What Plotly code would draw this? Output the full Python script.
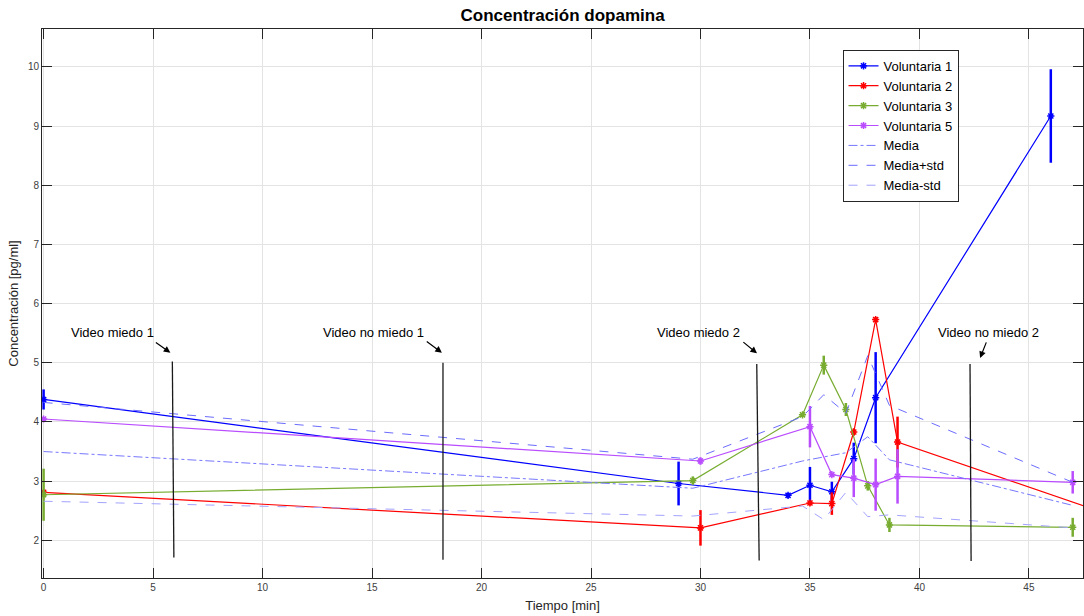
import plotly.graph_objects as go

# ---------------- data ----------------
t1 = [0, 29, 34, 35, 36, 37, 38, 46]
v1 = [4.38, 2.96, 2.76, 2.93, 2.82, 3.38, 4.41, 9.17]
e1 = [0.17, 0.37, 0.04, 0.31, 0.17, 0.27, 0.77, 0.79]

t2 = [0, 30, 35, 36, 37, 38, 39, 48]
v2 = [2.81, 2.21, 2.63, 2.62, 3.83, 5.73, 3.66, 2.52]
e2 = [0.04, 0.30, 0.04, 0.19, 0.06, 0.04, 0.43, 0.0]

t3 = [0, 29.65, 34.66, 35.63, 36.64, 37.64, 38.63, 47]
v3 = [2.77, 3.01, 4.12, 4.96, 4.21, 2.92, 2.26, 2.22]
e3 = [0.44, 0.07, 0.03, 0.16, 0.11, 0.08, 0.12, 0.16]

t5 = [0, 30, 35, 36, 37, 38, 39, 47]
v5 = [4.05, 3.34, 3.92, 3.11, 3.05, 2.94, 3.08, 2.98]
e5 = [0.03, 0.06, 0.35, 0.03, 0.32, 0.44, 0.46, 0.19]

t_media = [0, 29.65, 34.66, 35.63, 36.64, 37.64, 38.63, 47]
media = [3.50, 2.88, 3.34, 3.41, 3.48, 3.75, 3.36, 2.59]
media_mas = [4.33, 3.37, 4.09, 4.46, 4.15, 5.12, 4.28, 2.98]
media_menos = [2.66, 2.41, 2.58, 2.35, 2.81, 2.40, 2.43, 2.21]

video_labels = ["Video miedo 1", "Video no miedo 1", "Video miedo 2", "Video no miedo 2"]
video_x_top = [5.88, 18.24, 32.57, 42.31]
video_x_bot = [5.95, 18.24, 32.68, 42.36]
video_y_top = [5.02, 5.00, 4.98, 4.98]
video_y_bot = [1.71, 1.67, 1.66, 1.65]
label_x = [3.14, 15.08, 29.92, 43.16]
label_y = [5.51, 5.51, 5.51, 5.51]
arrow_tail_x = [5.06, 17.43, 31.89, 43.08]
arrow_tail_y = [5.36, 5.38, 5.37, 5.37]
arrow_head_x = [5.79, 18.19, 32.58, 42.77]
arrow_head_y = [5.17, 5.17, 5.16, 5.08]

x_ticks = [0, 5, 10, 15, 20, 25, 30, 35, 40, 45]
y_ticks = [2, 3, 4, 5, 6, 7, 8, 9, 10]

FONT = "Liberation Sans, Arial, sans-serif"

fig = go.Figure()

series = [
    ("Voluntaria 1", t1, v1, e1, "#0000ff"),
    ("Voluntaria 2", t2, v2, e2, "#ff0000"),
    ("Voluntaria 3", t3, v3, e3, "#77ac30"),
    ("Voluntaria 5", t5, v5, e5, "#b94cff"),
]
for name, t, v, e, c in series:
    fig.add_trace(go.Scatter(
        x=t, y=v, name=name, mode="lines+markers",
        line=dict(color=c, width=1.2),
        marker=dict(symbol="asterisk-open", size=6, color=c, line=dict(color=c, width=1.5)),
        error_y=dict(type="data", array=e, visible=True, width=0, thickness=2.5, color=c),
    ))

means = [
    ("Media", media, "#7777ff", "dashdot"),
    ("Media+std", media_mas, "#6b6bff", "dash"),
    ("Media-std", media_menos, "#a3a3ff", "dash"),
]
for name, v, c, d in means:
    fig.add_trace(go.Scatter(
        x=t_media, y=v, name=name, mode="lines",
        line=dict(color=c, width=1, dash=d),
    ))

shapes = []
annotations = []
for i, lab in enumerate(video_labels):
    shapes.append(dict(type="line", xref="x", yref="y",
                       x0=video_x_top[i], y0=video_y_top[i],
                       x1=video_x_bot[i], y1=video_y_bot[i],
                       line=dict(color="#1a1a1a", width=1.3)))
    annotations.append(dict(x=label_x[i], y=label_y[i], xref="x", yref="y",
                            text=lab, showarrow=False,
                            font=dict(family=FONT, size=13, color="black")))
    annotations.append(dict(x=arrow_head_x[i], y=arrow_head_y[i], xref="x", yref="y",
                            ax=arrow_tail_x[i], ay=arrow_tail_y[i],
                            axref="x", ayref="y", text="", showarrow=True,
                            arrowhead=2, arrowsize=1.1, arrowwidth=1.2,
                            arrowcolor="black"))

axis_common = dict(
    showgrid=True, gridcolor="#e3e3e3", gridwidth=1,
    zeroline=False, showline=True, linecolor="#262626", linewidth=1,
    mirror="allticks", ticks="inside", ticklen=10, tickwidth=1,
    tickcolor="#262626",
    tickfont=dict(family=FONT, size=10, color="#404040"),
    automargin=False,
)

fig.update_layout(
    width=1084, height=616,
    margin=dict(l=42, r=1, t=29, b=38),
    paper_bgcolor="white", plot_bgcolor="white",
    font=dict(family=FONT, size=13, color="#262626"),
    title=dict(text="<b>Concentración dopamina</b>", x=0.519, xanchor="center",
               y=1 - 15 / 616, yanchor="middle",
               font=dict(family=FONT, size=17, color="black")),
    xaxis=dict(range=[-0.073, 47.47], tickvals=x_ticks,
               title=dict(text="Tiempo [min]", standoff=8,
                          font=dict(family=FONT, size=13, color="#262626")),
               **axis_common),
    yaxis=dict(range=[1.363, 10.64], tickvals=y_ticks,
               title=dict(text="Concentración [pg/ml]", standoff=6,
                          font=dict(family=FONT, size=13, color="#262626")),
               **axis_common),
    legend=dict(x=0.769, y=0.962, xanchor="left", yanchor="top",
                bgcolor="white", bordercolor="#262626", borderwidth=1,
                font=dict(family=FONT, size=13, color="black"),
                itemwidth=30, tracegroupgap=0),
    shapes=shapes,
    annotations=annotations,
)

fig.write_html("out.html",
               config={"displayModeBar": False},
               post_script="document.body.style.margin='0';document.body.style.overflow='hidden';")
